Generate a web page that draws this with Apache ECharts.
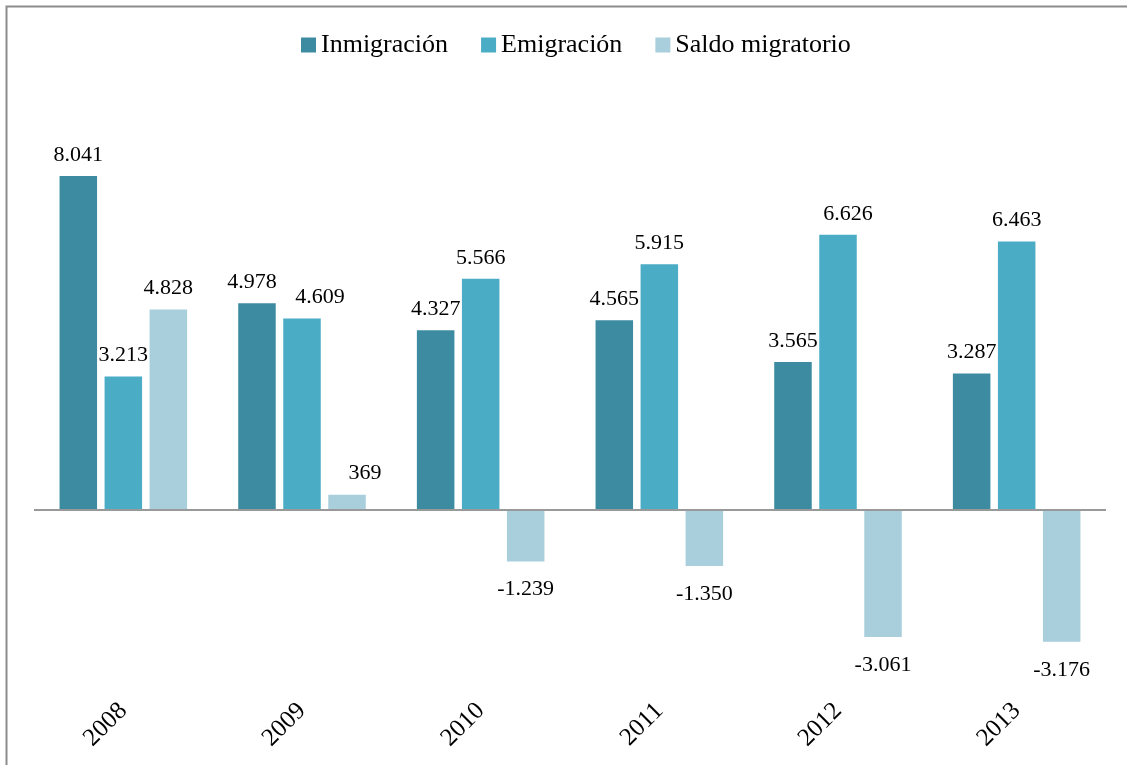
<!DOCTYPE html>
<html>
<head>
<meta charset="utf-8">
<script src="https://cdn.jsdelivr.net/npm/echarts@6/dist/echarts.min.js"></script>
<style>
html,body{margin:0;padding:0;background:#fff;}
#chart{width:1127px;height:765px;}
</style>
</head>
<body>
<div id="chart"></div>
<script>
const categories = ['2008', '2009', '2010', '2011', '2012', '2013'];
const inmigracion = [8041, 4978, 4327, 4565, 3565, 3287];
const emigracion = [3213, 4609, 5566, 5915, 6626, 6463];
const saldo = [4828, 369, -1239, -1350, -3061, -3176];
const seriesNames = ['Inmigración', 'Emigración', 'Saldo migratorio'];

const FONT = '"Liberation Serif", "Times New Roman", serif';
const colors = ['#3c8ba1', '#4bacc6', '#a9cfdd'];

function fmt(v) {
  const s = Math.abs(v).toString();
  const withSep = s.replace(/\B(?=(\d{3})+(?!\d))/g, '.');
  return (v < 0 ? '-' : '') + withSep;
}

// horizontal nudges of some labels (series index -> {category index: dx})
const labelShift = {
  0: {1: -5},
  1: {1: 18, 4: 10},
  2: {1: 18}
};

function buildData(values, si) {
  return values.map((v, i) => {
    const dx = (labelShift[si] && labelShift[si][i]) || 0;
    return {
      value: v,
      label: {
        position: v < 0 ? 'bottom' : 'top',
        distance: v < 0 ? 17 : 10,
        offset: [dx, 0]
      }
    };
  });
}

const seriesValues = [inmigracion, emigracion, saldo];

const series = seriesValues.map((vals, si) => ({
  name: seriesNames[si],
  type: 'bar',
  data: buildData(vals, si),
  itemStyle: { color: colors[si] },
  barGap: '20%',
  barCategoryGap: '28.6%',
  label: {
    show: true,
    color: '#000',
    fontFamily: FONT,
    fontSize: 22,
    formatter: p => fmt(p.value)
  },
  markLine: si === 0 ? {
    silent: true,
    symbol: 'none',
    label: { show: false },
    lineStyle: { color: '#999', width: 2, type: 'solid' },
    data: [{ yAxis: 0 }]
  } : undefined
}));

const chart = echarts.init(document.getElementById('chart'), null, { renderer: 'canvas' });
chart.setOption({
  animation: false,
  backgroundColor: '#fff',
  textStyle: { fontFamily: FONT },
  graphic: [{
    type: 'rect',
    shape: { x: 6.5, y: 6.5, width: 1140, height: 780 },
    style: { fill: 'none', stroke: '#8c8c8c', lineWidth: 2 },
    silent: true
  }],
  legend: {
    top: 27,
    left: 296,
    itemWidth: 15,
    itemHeight: 15,
    itemGap: 33,
    icon: 'rect',
    textStyle: { fontFamily: FONT, fontSize: 26, color: '#000', padding: [0, 0, 0, 0] },
    data: seriesNames
  },
  grid: {
    left: 34,
    right: 21,
    top: 94.6,
    height: 581.5,
    containLabel: false
  },
  xAxis: {
    type: 'category',
    data: categories,
    axisLine: { show: false, onZero: false },
    axisTick: { show: false },
    axisLabel: {
      rotate: 45,
      margin: 31,
      color: '#000',
      fontFamily: FONT,
      fontSize: 25,
      interval: 0
    }
  },
  yAxis: {
    type: 'value',
    min: -4000,
    max: 10000,
    interval: 2000,
    show: false,
    splitLine: { show: false }
  },
  series: series
});
</script>
</body>
</html>
